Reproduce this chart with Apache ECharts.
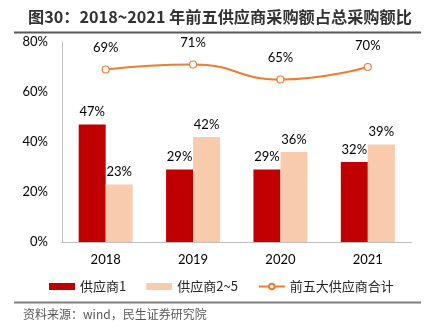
<!DOCTYPE html>
<html>
<head>
<meta charset="utf-8">
<script src="https://cdn.jsdelivr.net/npm/echarts@6/dist/echarts.min.js"></script>
<style>
  html, body { margin: 0; padding: 0; background: #fff; }
  #chart { width: 429px; height: 333px; }
</style>
</head>
<body>
<div id="chart"></div>
<script>
// Share of purchases from top suppliers, 2018-2021 (%)
const years = ['2018', '2019', '2020', '2021'];
const supplier1 = [47, 29, 29, 32];
const suppliers2to5 = [23, 42, 36, 39];
const top5Total = [69, 71, 65, 70];
const yTicks = [0, 20, 40, 60, 80];

const seriesNames = ['供应商1', '供应商2~5', '前五大供应商合计'];
const titleText = '图30：2018~2021 年前五供应商采购额占总采购额比';
const sourceText = '资料来源：wind，民生证券研究院';

const numFont = 'Lato, "Noto Sans CJK SC", sans-serif';
const cjkFont = '"Noto Sans CJK SC", sans-serif';

const chart = echarts.init(document.getElementById('chart'), null, { renderer: 'canvas' });

const pctLabel = {
  show: true,
  position: 'top',
  distance: 6,
  color: '#000',
  fontSize: 13,
  fontFamily: numFont,
  formatter: p => p.value + '%'
};

chart.setOption({
  animation: false,
  backgroundColor: '#fff',
  title: {
    text: titleText,
    left: 23,
    top: 4,
    textStyle: { fontSize: 16.2, fontWeight: 'bold', color: '#333', fontFamily: cjkFont }
  },
  graphic: [
    { type: 'line', shape: { x1: 14, y1: 32.5, x2: 421, y2: 32.5 }, style: { stroke: '#595959', lineWidth: 2 } },
    { type: 'line', shape: { x1: 14, y1: 302.5, x2: 421, y2: 302.5 }, style: { stroke: '#7f7f7f', lineWidth: 2 } },
    { type: 'text', left: 23, top: 308, style: { text: sourceText, fill: '#595959', font: '12px "Noto Sans CJK SC", sans-serif' } }
  ],
  legend: {
    left: 44,
    top: 275,
    itemWidth: 26,
    itemHeight: 7,
    itemGap: 20,
    textStyle: { fontSize: 13, color: '#262626', fontFamily: cjkFont },
    data: [
      { name: seriesNames[0], icon: 'rect' },
      { name: seriesNames[1], icon: 'rect' },
      { name: seriesNames[2] }
    ]
  },
  grid: { left: 62, right: 17.5, top: 42, bottom: 91 },
  xAxis: {
    type: 'category',
    data: years,
    axisLine: { lineStyle: { color: '#BFBFBF', width: 1 } },
    axisTick: { show: false },
    axisLabel: { color: '#000', fontSize: 13, fontFamily: numFont, margin: 11 }
  },
  yAxis: {
    type: 'value',
    min: yTicks[0],
    max: yTicks[yTicks.length - 1],
    interval: yTicks[1] - yTicks[0],
    axisLine: { show: true, lineStyle: { color: '#BFBFBF', width: 1 } },
    axisTick: { show: false },
    splitLine: { show: false },
    axisLabel: { color: '#000', fontSize: 13, fontFamily: numFont, margin: 14, formatter: '{value}%' }
  },
  series: [
    {
      name: seriesNames[0],
      type: 'bar',
      data: supplier1,
      barWidth: 27,
      barGap: '0%',
      itemStyle: { color: '#C00000' },
      label: pctLabel
    },
    {
      name: seriesNames[1],
      type: 'bar',
      data: suppliers2to5,
      barWidth: 27,
      barGap: '0%',
      itemStyle: { color: '#F8CBAD' },
      label: pctLabel
    },
    {
      name: seriesNames[2],
      type: 'line',
      data: top5Total,
      smooth: 0.5,
      symbol: 'circle',
      symbolSize: 7,
      lineStyle: { color: '#ED7D31', width: 2 },
      itemStyle: { color: '#fff', borderColor: '#ED7D31', borderWidth: 1.2 },
      label: Object.assign({}, pctLabel, { distance: 11 })
    }
  ]
});
</script>
</body>
</html>
